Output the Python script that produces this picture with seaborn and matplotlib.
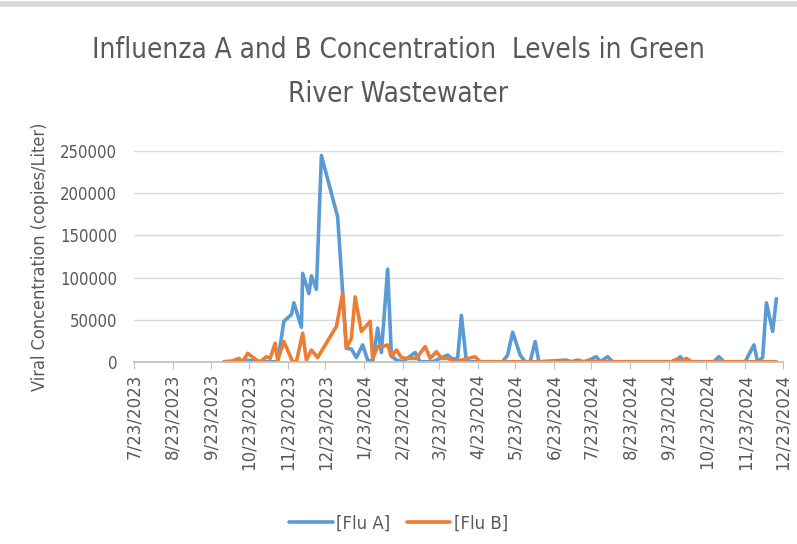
import pandas as pd
import seaborn as sns
import matplotlib.pyplot as plt
import matplotlib.dates as mdates
from matplotlib.lines import Line2D

# values
flu_a_dates = ['2023-10-03', '2023-10-12', '2023-10-21', '2023-11-01', '2023-11-09', '2023-11-15',
               '2023-11-20', '2023-11-26', '2023-11-28', '2023-12-04', '2023-12-05', '2023-12-10',
               '2023-12-12', '2023-12-16', '2023-12-20', '2024-01-02', '2024-01-09', '2024-01-13',
               '2024-01-17', '2024-01-22', '2024-01-26', '2024-01-30', '2024-02-03', '2024-02-06',
               '2024-02-11', '2024-02-14', '2024-02-18', '2024-02-23', '2024-03-04', '2024-03-08',
               '2024-03-18', '2024-03-30', '2024-04-03', '2024-04-07', '2024-04-10', '2024-04-14',
               '2024-05-13', '2024-05-17', '2024-05-21', '2024-05-27', '2024-05-31', '2024-06-04',
               '2024-06-08', '2024-06-11', '2024-07-03', '2024-07-07', '2024-07-12', '2024-07-17',
               '2024-07-21', '2024-07-27', '2024-07-30', '2024-08-05', '2024-08-09', '2024-09-28',
               '2024-10-02', '2024-10-06', '2024-10-29', '2024-11-02', '2024-11-06', '2024-11-23',
               '2024-11-30', '2024-12-03', '2024-12-07', '2024-12-10', '2024-12-15', '2024-12-18']
flu_a = [0, 0, 2000, 0, 0, 0,
         48000, 56000, 70000, 41000, 105000, 81000,
         102000, 86000, 245000, 172000, 16000, 15000,
         5000, 20000, 2000, 0, 40000, 11000,
         110000, 7000, 2000, 0, 11000, 0,
         0, 8000, 3000, 4000, 55000, 0,
         0, 8000, 35000, 8000, 0, 0,
         24000, 0, 2000, 0, 2000, 0,
         2000, 6000, 0, 6000, 0, 0,
         6000, 0, 0, 6000, 0, 0,
         20000, 0, 5000, 70000, 36000, 75000]

flu_b_dates = ['2023-10-03', '2023-10-10', '2023-10-15', '2023-10-18', '2023-10-22', '2023-10-29',
               '2023-11-01', '2023-11-06', '2023-11-09', '2023-11-13', '2023-11-15', '2023-11-20',
               '2023-11-27', '2023-11-30', '2023-12-05', '2023-12-08', '2023-12-12', '2023-12-17',
               '2024-01-01', '2024-01-06', '2024-01-09', '2024-01-13', '2024-01-16', '2024-01-21',
               '2024-01-28', '2024-01-30', '2024-02-03', '2024-02-07', '2024-02-11', '2024-02-14',
               '2024-02-18', '2024-02-22', '2024-02-26', '2024-03-05', '2024-03-12', '2024-03-16',
               '2024-03-21', '2024-03-25', '2024-03-30', '2024-04-05', '2024-04-21', '2024-04-25',
               '2024-07-18', '2024-07-22', '2024-07-26', '2024-09-25', '2024-09-29', '2024-10-03',
               '2024-10-07', '2024-10-11', '2024-12-18']
flu_b = [0, 1000, 4000, 0, 10000, 2000,
         0, 6000, 4000, 22000, 2000, 24000,
         0, 0, 34000, 2000, 14000, 5000,
         42000, 81000, 16000, 28000, 77000, 36000,
         48000, 4000, 18000, 18000, 20000, 6000,
         14000, 5000, 4000, 4000, 18000, 4000,
         12000, 4000, 4000, 0, 6000, 0,
         0, 2000, 0, 0, 3000, 0,
         4000, 0, 0]

series_names = ['[Flu A]', '[Flu B]']
colors = ['#5B9BD5', '#ED7D31']

df = pd.concat([
    pd.DataFrame({'date': pd.to_datetime(flu_a_dates), 'value': flu_a, 'series': series_names[0]}),
    pd.DataFrame({'date': pd.to_datetime(flu_b_dates), 'value': flu_b, 'series': series_names[1]}),
])

sns.set_theme(style="white")
plt.rcParams['font.family'] = ['DejaVu Sans']
plt.rcParams['font.stretch'] = 'condensed'
grey = '#595959'

fig = plt.figure(figsize=(7.97, 5.44), dpi=100)
ax = fig.add_axes([0.168, 0.335, 0.814, 0.387])

sns.lineplot(data=df, x='date', y='value', hue='series', palette=colors,
             linewidth=2.6, ax=ax, legend=False)

ax.set_xlim(pd.Timestamp('2023-07-23'), pd.Timestamp('2024-12-23'))
ax.set_ylim(0, 250000)
ax.set_yticks(range(0, 250001, 50000))
ax.xaxis.set_major_locator(mdates.MonthLocator(bymonthday=23))
ax.xaxis.set_major_formatter(mdates.DateFormatter('%-m/%d/%Y'))
ax.tick_params(axis='x', rotation=90, labelsize=12, colors=grey, length=5, width=0.8,
               direction='out', bottom=True, color='#BFBFBF')
for lbl in ax.get_xticklabels():
    lbl.set_fontstretch('normal')
ax.tick_params(axis='y', labelsize=12, colors=grey, length=0, pad=12)
ax.yaxis.grid(True, color='#D9D9D9', linewidth=1)
ax.set_xlabel('')
ax.set_ylabel('Viral Concentration (copies/Liter)', fontsize=13, color=grey, labelpad=8)
for side in ['top', 'right', 'left']:
    ax.spines[side].set_visible(False)
ax.spines['bottom'].set_color('#BFBFBF')

fig.text(0.5, 0.868, 'Influenza A and B Concentration  Levels in Green\nRiver Wastewater',
         ha='center', va='center', fontsize=20, color=grey, linespacing=1.75)

handles = [Line2D([0], [0], color=c, linewidth=2.6) for c in colors]
fig.legend(handles, series_names, loc='center', bbox_to_anchor=(0.5, 0.038), ncol=2,
           frameon=False, labelcolor=grey, handlelength=2.6, columnspacing=1.0,
           handletextpad=0.2, prop={'size': 12, 'stretch': 'normal'})

# light grey strip along the top edge
fig.add_artist(Line2D([0, 1], [0.992, 0.992], color='#D9D9D9', linewidth=4,
                      transform=fig.transFigure))

fig.savefig('out.png', dpi=100)
